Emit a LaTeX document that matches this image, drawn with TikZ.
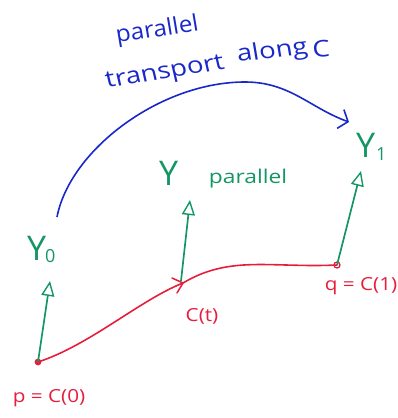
\documentclass[tikz,border=0pt]{standalone}
\usepackage{fontspec}
\setmainfont{Open Sans}
\usetikzlibrary{arrows.meta,calc}
\definecolor{penblue}{RGB}{25,40,200}
\definecolor{pengreen}{RGB}{20,150,100}
\definecolor{penred}{RGB}{230,30,60}
\tikzset{
  curvered/.style={penred, line width=1.6pt, line cap=round},
  vecgreen/.style={pengreen, line width=1.7pt, -{Triangle[open,length=15pt,width=13pt,line width=1.4pt]}},
  transport/.style={penblue, line width=1.6pt, -{Straight Barb[length=8pt,width=20pt,line width=1.6pt]}},
  lblgreen/.style={pengreen, inner sep=0pt, font=\fontsize{34}{36}\selectfont},
  lblred/.style={penred, inner sep=0pt, xscale=1.15, font=\fontsize{18}{20}\selectfont},
  lblblue/.style={penblue, inner sep=0pt, anchor=base west, xscale=1.2, font=\fontsize{23}{25}\selectfont},
}
\begin{document}
\begin{tikzpicture}[x=1pt,y=-1pt]
\useasboundingbox (0,0) rectangle (398,418);
% points
\coordinate (p) at (38,362);
\coordinate (ct) at (183,283);
\coordinate (q) at (337,265);
\coordinate (v0) at (50,281);
\coordinate (vt) at (190,200);
\coordinate (v1) at (361,171);
\coordinate (bs) at (57,217);
\coordinate (be) at (349,122);
% curve
\draw[curvered] (p) .. controls (90,345) and (140,300) .. (ct)
  .. controls (230,255) and (270,268) .. (q);
\draw[penred, line width=1.5pt, line cap=round, line join=round] (172,278) -- (ct) -- (177,293);
\fill[penred] (p) circle (3.4pt);
\draw[penred, line width=1.3pt] (q) circle (3pt);
% vectors
\draw[vecgreen] (p) -- (v0);
\draw[vecgreen] (181,281) -- (vt);
\draw[vecgreen] (q) -- (v1);
% labels
\node[lblgreen, anchor=base west] (y0) at (27,260) {Y\kern-1pt\raisebox{-2pt}{\fontsize{18}{20}\selectfont 0}};
\node[lblgreen, anchor=base west] (yt) at (159,185) {Y};
\node[pengreen, inner sep=0pt, xscale=1.2, font=\fontsize{19}{21}\selectfont] (par) at (248,179) {parallel};
\node[lblgreen, anchor=base west] (y1) at (356,157) {Y\kern1pt\raisebox{-3pt}{\fontsize{18}{20}\selectfont 1}};
\node[lblred] (lct) at (202,316) {C(t)};
\node[lblred] (lp) at (49,398) {p = C(0)};
\node[lblred] (lq) at (361,286) {q = C(1)};
% transport
\draw[transport] (bs) .. controls (70,150) and (160,82) .. (245,82)
  .. controls (290,82) and (310,108) .. (be);
\node[lblblue, xscale=0.88, rotate=9] (t1) at (117,43) {parallel};
\node[lblblue, rotate=11] (t2) at (107,88) {transport};
\node[lblblue, rotate=8] (t3) at (238,62) {along};
\node[lblblue, rotate=4] (t4) at (313,58) {C};
\end{tikzpicture}
\end{document}
